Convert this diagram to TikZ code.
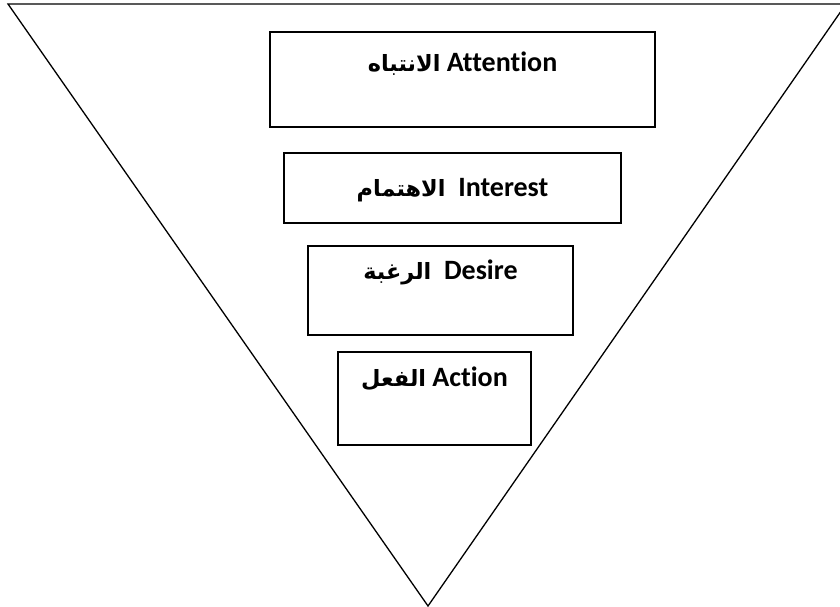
\documentclass[tikz,border=0pt]{standalone}
\usepackage{fontspec}
\setmainfont{Carlito}[Ligatures=NoCommon]
\newfontfamily\arabicfont[Script=Arabic, Scale=0.8]{DejaVu Sans}
\TeXXeTstate=1
\usetikzlibrary{positioning}

\begin{document}
\begin{tikzpicture}[
        x=1pt, y=-1pt,
        box/.style={draw, rectangle, line width=1.4pt},
        lbl/.style={font=\bfseries\fontsize{28}{32}\selectfont, inner sep=0pt, anchor=base},
        funnel/.style={line width=1.3pt},
    ]
        \useasboundingbox (0,0) rectangle (840,607);
        \coordinate (tl) at (8,4);
        \coordinate (tr) at (846,4);
        \coordinate (tip) at (428,606);
        \draw[funnel, line join=miter] (tl) -- (tr) -- (tip) -- cycle;

        \node[box, minimum width=385pt, minimum height=95pt] (attention) at (462.5,79.5) {};
        \node[box, minimum width=337pt, minimum height=70pt] (interest) at (452.5,188) {};
        \node[box, minimum width=265pt, minimum height=89pt] (desire) at (440.5,290.5) {};
        \node[box, minimum width=193pt, minimum height=93pt] (action) at (434.5,398.5) {};

        \node[lbl] (attentiontxt) at ([yshift=-40pt]attention.north) {{\arabicfont\beginR الانتباه\endR} Attention};
        \node[lbl] (interesttxt) at ([yshift=-44pt]interest.north) {{\arabicfont\beginR الاهتمام\endR}\ \ Interest};
        \node[lbl] (desiretxt) at ([yshift=-34pt]desire.north) {{\arabicfont\beginR الرغبة\endR}\ \ Desire};
        \node[lbl] (actiontxt) at ([yshift=-35pt]action.north) {{\arabicfont\beginR الفعل\endR} Action};
\end{tikzpicture}
\end{document}
